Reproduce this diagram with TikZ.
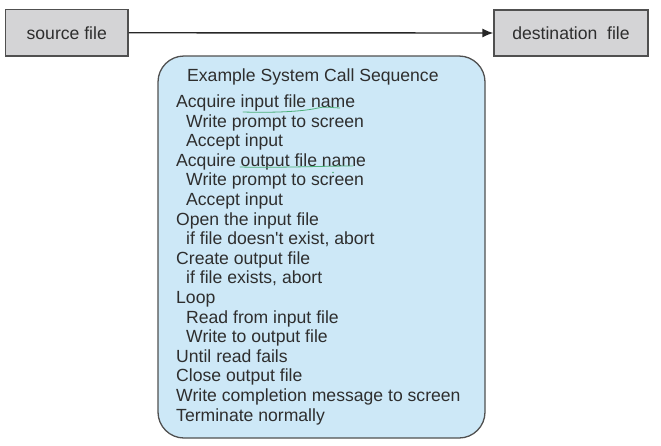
\documentclass[tikz,border=0pt]{standalone}
\usepackage{fontspec}
\setmainfont{Liberation Sans}[Ligatures=TeXOff]
\usetikzlibrary{arrows.meta}
\definecolor{boxgray}{HTML}{D4D4D6}
\definecolor{boxedge}{HTML}{505050}
\definecolor{seqblue}{HTML}{CDE8F7}
\definecolor{txt}{HTML}{2E2E2E}
\definecolor{pen}{HTML}{4CB07A}
\tikzset{
  filebox/.style={draw=boxedge, fill=boxgray, line width=1.3pt, inner sep=0pt,
    font=\fontsize{17.6}{19.6}\selectfont, text=txt},
  seqline/.style={anchor=base west, inner sep=0pt, font=\fontsize{17.6}{19.6}\selectfont, text=txt},
  flow/.style={line width=1.4pt, draw=black!85, -{Latex[length=11pt,width=9pt]}},
  penmark/.style={draw=pen, line width=0.8pt, line cap=round}
}
\begin{document}
\begin{tikzpicture}[x=1pt,y=-1pt]
\useasboundingbox (0,0) rectangle (661,445);
\node[filebox, minimum width=122.5pt, minimum height=46.5pt] (src) at (66.75,32.75) {source file};
\node[filebox, minimum width=154pt, minimum height=46pt] (dst) at (571,33) {destination\ \ file};
\draw[flow] (src.east) -- (dst.west);
\draw[draw=boxedge, fill=seqblue, line width=1.3pt, rounded corners=26pt] (158,56) rectangle (485,438);
\node[seqline] (title) at (187,81) {Example System Call Sequence};
\foreach [count=\i] \ind/\txt in {
  0/Acquire input file name,
  1/Write prompt to screen,
  1/Accept input,
  0/Acquire output file name,
  1/Write prompt to screen,
  1/Accept input,
  0/Open the input file,
  1/{if file doesn't exist, abort},
  0/Create output file,
  1/{if file exists, abort},
  0/Loop,
  1/Read from input file,
  1/Write to output file,
  0/Until read fails,
  0/Close output file,
  0/Write completion message to screen,
  0/Terminate normally}
{
  \node[seqline] (l\i) at (176+10*\ind, 107.5+19.6*\i-19.6) {\txt};
}
\draw[penmark] (243,112) .. controls (280,113) and (305,111) .. (318,108) .. controls (326,106) and (333,108) .. (340,108);
\draw[penmark] (240,167) .. controls (280,168) and (320,166) .. (353,166);
\fill[pen] (333,172.5) circle (0.9pt);
\end{tikzpicture}
\end{document}
